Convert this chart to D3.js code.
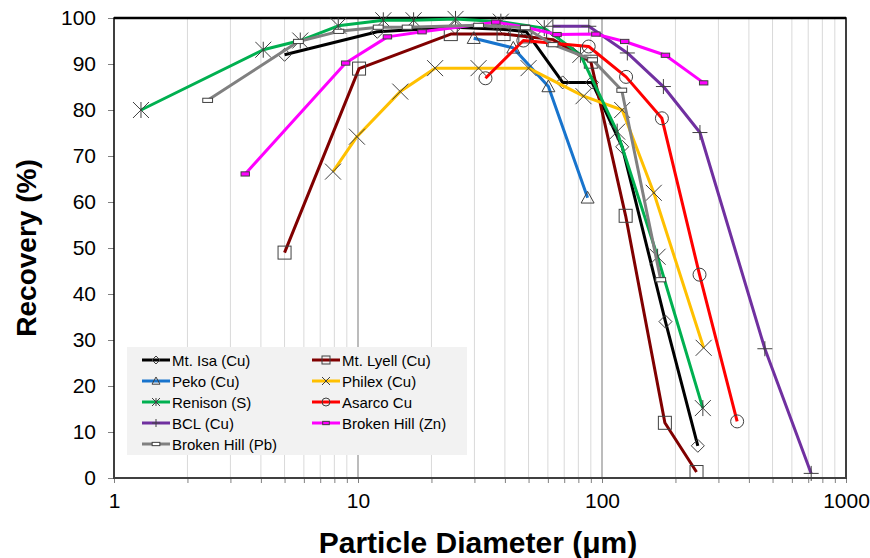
<!DOCTYPE html>
<html><head><meta charset="utf-8">
<script src="https://cdn.jsdelivr.net/npm/d3@7"></script>
<style>body{margin:0;background:#fff}svg{display:block;font-family:"Liberation Sans",Arial,sans-serif}</style>
</head><body><svg id="c" width="870" height="558"></svg>
<script>
const seriesNames = ["Mt. Isa (Cu)","Mt. Lyell (Cu)","Peko (Cu)","Philex (Cu)","Renison (S)","Asarco Cu","BCL (Cu)","Broken Hill (Zn)","Broken Hill (Pb)"];
const seriesColors = ["#000000","#800000","#1874CD","#FFC000","#00B050","#FF0000","#7030A0","#FF00FF","#808080"];
const seriesMarkers = ["diamond","square","triangle","x","asterisk","circle","plus","rectFill","rectWhite"];

const mtIsaX = [5, 12, 25, 40, 49, 69, 91, 121, 182, 247];
const mtIsaY = [92, 97, 98, 97.5, 97, 86, 86, 72, 34, 7];
const mtLyellX = [5, 10.1, 24, 39.5, 48.5, 63, 90, 125, 181, 244];
const mtLyellY = [49, 89, 96.5, 96.5, 96, 95.3, 90.5, 57, 12, 1.3];
const pekoX = [29.8, 43.3, 60.3, 87.3];
const pekoY = [95.6, 93.5, 85.1, 60.9];
const philexX = [7.9, 9.9, 14.9, 20.7, 31.2, 50, 84, 121, 163, 261];
const philexY = [66.6, 74.2, 84, 89.1, 89.1, 89.1, 83, 80, 62, 28.3];
const renisonX = [1.29, 4.09, 5.8, 8.3, 12.7, 16.9, 25.1, 38.5, 58, 81.6, 115.4, 169, 259];
const renisonY = [80, 93.1, 95.1, 98.3, 99.5, 99.5, 99.8, 99.2, 97.8, 92, 75.3, 48.1, 15.2];
const asarcoX = [33.3, 47.6, 88.2, 125.5, 176, 251, 358];
const asarcoY = [86.9, 95.1, 93.8, 87.2, 78.2, 44.2, 12.3];
const bclX = [62.9, 88.3, 127, 178.5, 252, 465, 720];
const bclY = [98.2, 98.2, 92.4, 85.1, 75.1, 28.1, 1];
const bhZnX = [3.45, 8.9, 13.2, 18.3, 36.7, 48.5, 65.4, 94.4, 123.9, 182, 261];
const bhZnY = [66.1, 90.2, 95.9, 97, 99.1, 98, 96.4, 96.5, 94.9, 91.9, 85.9];
const bhPbX = [2.42, 5.7, 8.35, 12.1, 15.9, 31.2, 48.5, 63, 91.5, 120.5, 174];
const bhPbY = [82.1, 94.9, 97.1, 98, 98, 98.4, 97.9, 94.2, 90.9, 84.3, 43.1];

const xTicks = [1, 10, 100, 1000];
const yTicks = [0, 10, 20, 30, 40, 50, 60, 70, 80, 90, 100];

const allX = [mtIsaX, mtLyellX, pekoX, philexX, renisonX, asarcoX, bclX, bhZnX, bhPbX];
const allY = [mtIsaY, mtLyellY, pekoY, philexY, renisonY, asarcoY, bclY, bhZnY, bhPbY];
const series = seriesNames.map((n, i) => ({name: n, color: seriesColors[i], marker: seriesMarkers[i],
  pts: allX[i].map((x, j) => [x, allY[i][j]])}));

const svg = d3.select("#c");
const L = 114, R = 846, T = 18, B = 478;
const x = d3.scaleLog().domain([1, 1000]).range([L, R]);
const y = d3.scaleLinear().domain([0, 100]).range([B, T]);

// minor grid
const minor = [];
for (let d = 1; d < 1000; d *= 10) for (let k = 2; k <= 9; k++) minor.push(d * k);
svg.append("g").selectAll("line").data(minor).join("line")
  .attr("x1", d => x(d)).attr("x2", d => x(d)).attr("y1", T).attr("y2", B)
  .attr("stroke", "#d9d9d9").attr("stroke-width", 1);
svg.append("g").selectAll("line").data([10, 100]).join("line")
  .attr("x1", d => x(d)).attr("x2", d => x(d)).attr("y1", T).attr("y2", B)
  .attr("stroke", "#a6a6a6").attr("stroke-width", 1.5);

// axes
const xAxis = d3.axisBottom(x).tickValues(minor.concat(xTicks)).tickSize(5).tickFormat(d => xTicks.includes(d) ? d : "");
const gx = svg.append("g").attr("transform", `translate(0,${B})`).call(xAxis);
gx.select(".domain").remove();
gx.selectAll(".tick line").attr("stroke", "#808080");
gx.selectAll(".tick text").attr("font-size", 21).attr("fill", "#000").attr("dy", "1.05em")
  .attr("font-family", '"Liberation Sans",Arial,sans-serif');

const yAxis = d3.axisLeft(y).tickValues(yTicks).tickSize(6).tickPadding(12);
const gy = svg.append("g").attr("transform", `translate(${L},0)`).call(yAxis);
gy.select(".domain").remove();
gy.selectAll(".tick line").attr("stroke", "#808080");
gy.selectAll(".tick text").attr("font-size", 21).attr("fill", "#000")
  .attr("font-family", '"Liberation Sans",Arial,sans-serif');

// frame
svg.append("rect").attr("x", L).attr("y", T).attr("width", R - L).attr("height", B - T)
  .attr("fill", "none").attr("stroke", "#000").attr("stroke-width", 1.5);
svg.append("line").attr("x1", L).attr("x2", R).attr("y1", T).attr("y2", T).attr("stroke", "#000").attr("stroke-width", 2.5);
svg.append("line").attr("x1", L).attr("x2", R).attr("y1", B).attr("y2", B).attr("stroke", "#404040").attr("stroke-width", 2);

function marker(g, type, cx, cy, s) {
  const h = s / 2, mc = "#404040";
  let el;
  switch (type) {
    case "diamond":
      el = g.append("path").attr("d", `M${cx},${cy - h}L${cx + h},${cy}L${cx},${cy + h}L${cx - h},${cy}Z`).attr("fill", "none"); break;
    case "square":
      el = g.append("rect").attr("x", cx - h).attr("y", cy - h).attr("width", s).attr("height", s).attr("fill", "none"); break;
    case "triangle":
      el = g.append("path").attr("d", `M${cx},${cy - h}L${cx + h},${cy + h * 0.8}L${cx - h},${cy + h * 0.8}Z`).attr("fill", "none"); break;
    case "circle":
      el = g.append("circle").attr("cx", cx).attr("cy", cy).attr("r", h).attr("fill", "none"); break;
    case "x":
      el = g.append("path").attr("d", `M${cx - h},${cy - h}L${cx + h},${cy + h}M${cx - h},${cy + h}L${cx + h},${cy - h}`); break;
    case "asterisk":
      el = g.append("path").attr("d", `M${cx - h},${cy - h}L${cx + h},${cy + h}M${cx - h},${cy + h}L${cx + h},${cy - h}M${cx},${cy - h}L${cx},${cy + h}`); break;
    case "plus":
      el = g.append("path").attr("d", `M${cx - h},${cy}L${cx + h},${cy}M${cx},${cy - h}L${cx},${cy + h}`); break;
    case "rectFill":
      el = g.append("rect").attr("x", cx - s * 0.3).attr("y", cy - s * 0.15).attr("width", s * 0.6).attr("height", s * 0.3).attr("fill", "#FF00FF"); break;
    case "rectWhite":
      el = g.append("rect").attr("x", cx - s * 0.35).attr("y", cy - s * 0.15).attr("width", s * 0.7).attr("height", s * 0.3).attr("fill", "#fff"); break;
  }
  el.attr("stroke", mc).attr("stroke-width", 1);
}
const mSize = {diamond: 13, square: 13, triangle: 13, circle: 13, x: 16, asterisk: 16, plus: 15, rectFill: 14, rectWhite: 14};

const line = d3.line().x(d => x(d[0])).y(d => y(d[1]));
series.forEach(s => {
  const g = svg.append("g");
  g.append("path").datum(s.pts).attr("d", line).attr("fill", "none").attr("stroke", s.color)
    .attr("stroke-width", 3).attr("stroke-linejoin", "round");
  s.pts.forEach(p => marker(g, s.marker, x(p[0]), y(p[1]), mSize[s.marker]));
});

// legend
const lg = svg.append("g");
lg.append("rect").attr("x", 127).attr("y", 347).attr("width", 340).attr("height", 108).attr("fill", "#f2f2f2");
series.forEach((s, i) => {
  const col = i % 2, row = Math.floor(i / 2);
  const lx = col ? 312 : 142, ly = 360 + row * 21;
  lg.append("line").attr("x1", lx).attr("x2", lx + 28).attr("y1", ly).attr("y2", ly).attr("stroke", s.color).attr("stroke-width", 3);
  const ms = s.marker.startsWith("rect") ? 11 : 8;
  marker(lg, s.marker, lx + 14, ly, ms);
  lg.append("text").attr("x", lx + 30).attr("y", ly + 5.5).attr("font-size", 15).attr("fill", "#000").text(s.name);
});

// titles
svg.append("text").attr("x", 478).attr("y", 553).attr("text-anchor", "middle").attr("font-size", 30)
  .attr("font-weight", "bold").text("Particle Diameter (μm)");
svg.append("text").attr("transform", "translate(36,248) rotate(-90)").attr("text-anchor", "middle")
  .attr("font-size", 28).attr("font-weight", "bold").text("Recovery (%)");
</script></body></html>
